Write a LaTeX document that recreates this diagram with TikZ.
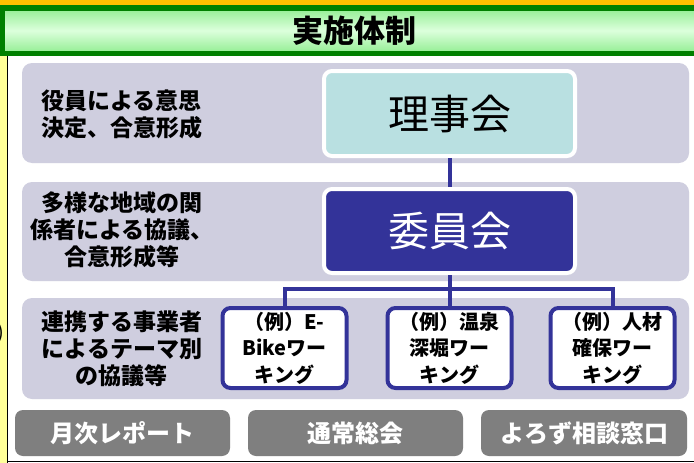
\documentclass[tikz,border=0pt]{standalone}
\usepackage{fontspec}
\newfontfamily\jp{Noto Sans CJK JP}
\definecolor{bandc}{HTML}{CFCEDF}
\definecolor{navy}{HTML}{333399}
\definecolor{tealc}{HTML}{B9E0E1}
\definecolor{btnc}{HTML}{7F7F7F}
\definecolor{orangec}{HTML}{FFC000}
\definecolor{greenc}{HTML}{008000}
\definecolor{glight}{HTML}{DCFFDC}
\definecolor{gedge}{HTML}{9CF09C}
\definecolor{yellowc}{HTML}{FFFF99}
\begin{document}
\begin{tikzpicture}[x=1pt,y=-1pt,
  band/.style={fill=bandc, rounded corners=10pt},
  topbox/.style={draw=white, line width=4pt, rounded corners=8pt, minimum width=251pt, minimum height=85pt, inner sep=0pt},
  wbox/.style={draw=navy, fill=white, line width=4pt, rounded corners=8pt, minimum width=124pt, minimum height=80pt, font=\jp\bfseries\fontsize{20}{26.5}\selectfont, align=center, inner sep=0pt},
  lbl/.style={font=\jp\bfseries\fontsize{23}{27}\selectfont, align=center, inner sep=0pt},
  btn/.style={fill=btnc, rounded corners=8pt, text=white, minimum width=215pt, minimum height=46pt, inner sep=0pt, font=\jp\bfseries\fontsize{24}{27}\selectfont},
  conn/.style={draw=navy, line width=4pt}]
\useasboundingbox (0,0) rectangle (694,463);
\fill[white] (0,0) rectangle (694,463);
% top bars
\fill[orangec] (0,0) rectangle (694,5);
\fill[greenc] (0,5) rectangle (694,56);
\shade[top color=gedge, bottom color=gedge, middle color=glight] (5,11) rectangle (694,50);
\node[font=\jp\bfseries\fontsize{31}{32}\selectfont, inner sep=0pt] (title) at (354.5,30.5) {実施体制};
% left strip and frame lines
\fill[yellowc] (0,56) rectangle (6.5,463);
\draw[black, line width=1.5pt] (7.3,56) -- (7.3,463);
\draw[black, line width=1.5pt] (7,461.5) -- (694,461.5);
\node[font=\jp\fontsize{20}{22}\selectfont, anchor=east, inner sep=0pt] (frag) at (4.5,333) {)};
% bands
\fill[band] (22,63) rectangle (689,163);
\fill[band] (22,182) rectangle (689,281);
\fill[band] (22,298) rectangle (689,399);
% labels
\node[lbl, align=left, anchor=west] (l1) at (41,114) {役員による意思\\決定、合意形成};
\node[lbl] (l2) at (122,230) {多様な地域の関\\係者による協議、\\合意形成等};
\node[lbl] (l3) at (122,349) {連携する事業者\\によるテーマ別\\の協議等};
% main boxes
\node[topbox, fill=tealc, font=\jp\fontsize{41}{44}\selectfont] (riji) at (449.5,113.5) {理事会};
\node[topbox, fill=navy, text=white, minimum height=84pt, font=\jp\fontsize{41}{44}\selectfont] (iin) at (449.5,231) {委員会};
% working boxes
\node[wbox] (w1) at (284.5,348) {（例）E-\\Bikeワー\\キング};
\node[wbox] (w2) at (449.5,348) {（例）温泉\\深堀ワー\\キング};
\node[wbox] (w3) at (612.5,348) {（例）人材\\確保ワー\\キング};
% connectors
\coordinate (j) at (449.5,289);
\draw[conn] (riji.south) -- (iin.north);
\draw[conn] (iin.south) -- (w2.north);
\draw[conn] (w1.north) -- (w1.north |- j) -- (w3.north |- j) -- (w3.north);
% buttons
\node[btn] (b1) at (122.5,433) {月次レポート};
\node[btn] (b2) at (355.5,433) {通常総会};
\node[btn, minimum width=206pt] (b3) at (584,433) {よろず相談窓口};
\end{tikzpicture}
\end{document}
